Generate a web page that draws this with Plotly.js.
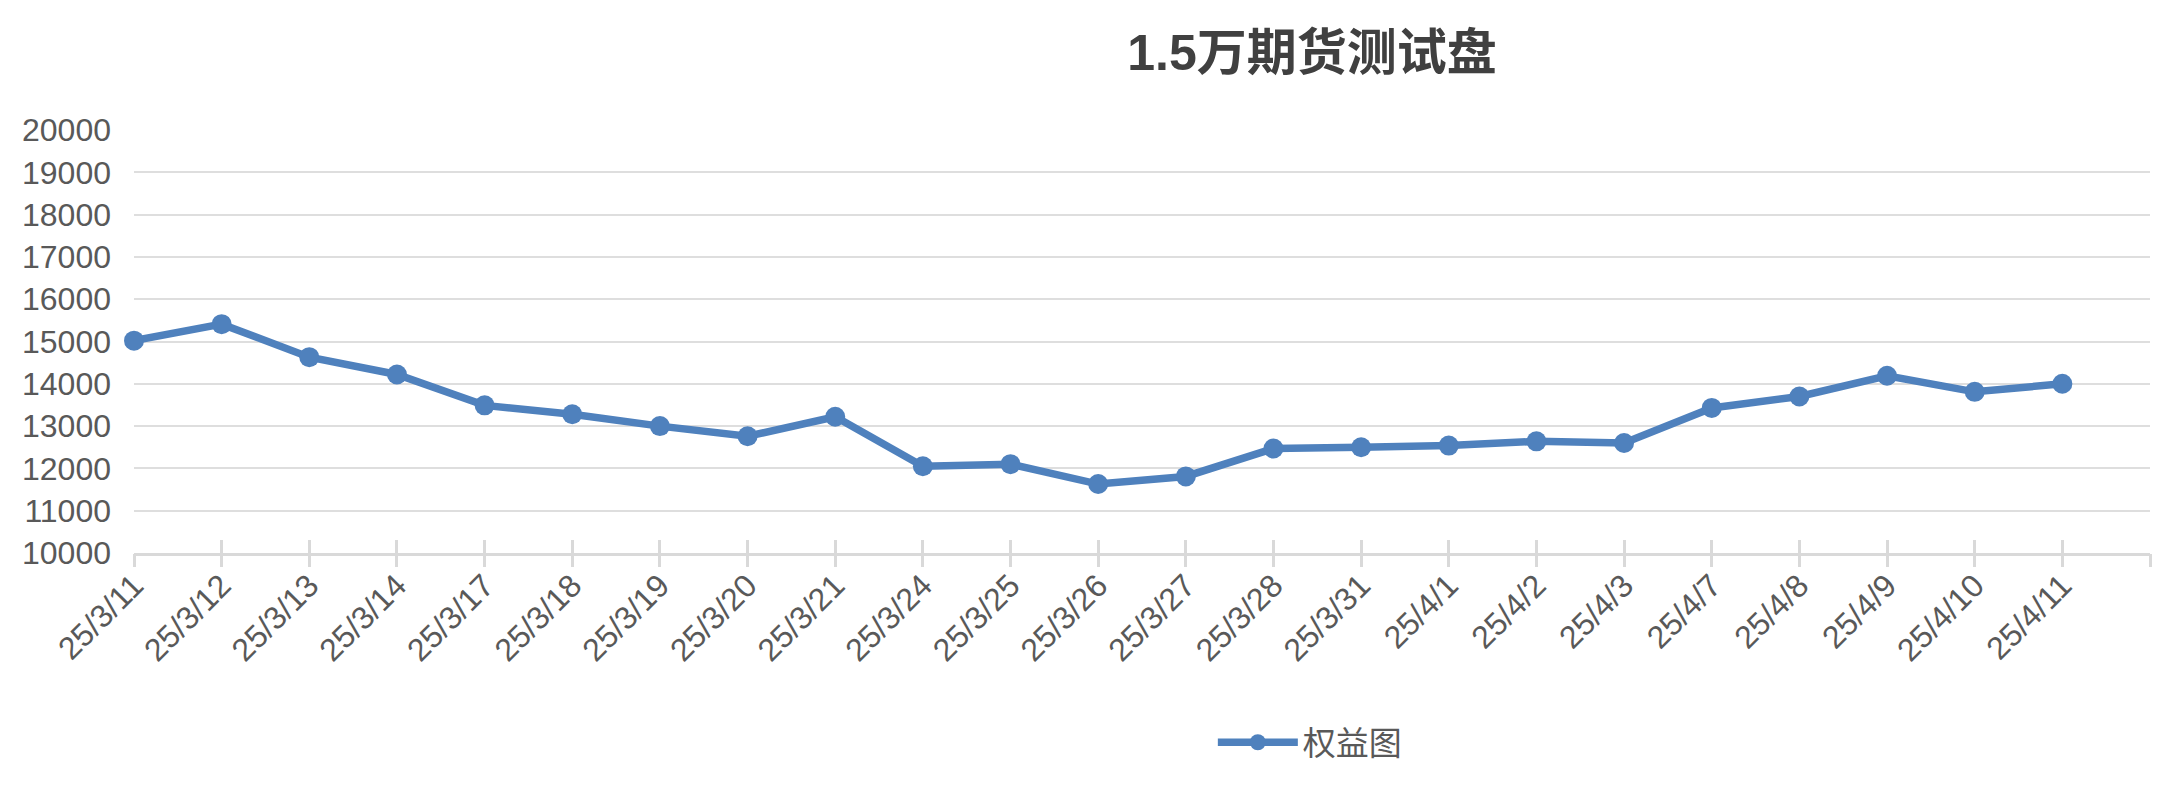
<!DOCTYPE html>
<html>
<head>
<meta charset="utf-8">
<script src="https://cdn.plot.ly/plotly-3.0.1.min.js"></script>
<style>
  html, body { margin: 0; padding: 0; background: #fff; }
  #chart { width: 2160px; height: 788px; }
</style>
</head>
<body>
<div id="chart"></div>
<script>
// 交易日
var dates = ['25/3/11', '25/3/12', '25/3/13', '25/3/14', '25/3/17', '25/3/18', '25/3/19',
  '25/3/20', '25/3/21', '25/3/24', '25/3/25', '25/3/26', '25/3/27', '25/3/28', '25/3/31',
  '25/4/1', '25/4/2', '25/4/3', '25/4/7', '25/4/8', '25/4/9', '25/4/10', '25/4/11'];

// 权益
var equity = [15020, 15410, 14630, 14220, 13490, 13280, 13000,
  12760, 13220, 12050, 12100, 11630, 11810, 12470, 12500,
  12540, 12640, 12600, 13430, 13700, 14190, 13810, 14000];

var yTicks = [10000, 11000, 12000, 13000, 14000, 15000, 16000, 17000, 18000, 19000, 20000];

var blue = '#4f81bd';
var gray = '#595959';
var fontFamily = 'Liberation Sans, Arial, Noto Sans CJK SC, sans-serif';

var data = [
  {
    x: dates,
    y: equity,
    name: '权益图',
    type: 'scatter',
    mode: 'lines+markers',
    cliponaxis: false,
    line: {
      color: blue,
      width: 7.5
    },
    marker: {
      size: 20,
      color: blue
    }
  },
  // 空的辅助序列，只为让两条刻度轴画出来
  { x: [], y: [], xaxis: 'x2', showlegend: false, hoverinfo: 'skip' },
  { x: [], y: [], xaxis: 'x3', showlegend: false, hoverinfo: 'skip' }
];

// 刻度线：横轴上下各一段，末尾多一格
var tickAxis = {
  overlaying: 'x',
  anchor: 'y',
  type: 'linear',
  range: [0, dates.length],
  tickmode: 'linear',
  tick0: 0,
  dtick: 1,
  ticklen: 13,
  tickwidth: 3,
  tickcolor: '#d9d9d9',
  showticklabels: false,
  showgrid: false,
  zeroline: false,
  showline: false,
  fixedrange: true
};

var layout = {
  width: 2160,
  height: 788,
  paper_bgcolor: '#fff',
  plot_bgcolor: '#fff',
  font: {
    family: fontFamily,
    color: gray,
    size: 32
  },
  title: {
    text: '<b>1.5万期货测试盘</b>',
    font: {
      family: fontFamily,
      size: 50,
      color: '#404040'
    },
    xref: 'container',
    yref: 'container',
    x: 0.6074,
    xanchor: 'center',
    y: 0.934,
    yanchor: 'middle'
  },
  margin: {
    t: 130,
    r: 10,
    b: 235,
    l: 134,
    pad: 0
  },
  showlegend: true,
  legend: {
    orientation: 'h',
    xref: 'container',
    yref: 'container',
    x: 0.5615,
    xanchor: 'left',
    y: 0.058,
    yanchor: 'middle',
    itemwidth: 80,
    font: {
      family: 'Noto Sans CJK SC, sans-serif',
      size: 33,
      color: gray
    }
  },
  xaxis: {
    type: 'category',
    range: [0, dates.length],
    ticks: '',
    tickangle: -45,
    ticklabelstandoff: -2,
    tickfont: {
      size: 32,
      color: gray
    },
    showline: true,
    linecolor: '#d9d9d9',
    linewidth: 3,
    showgrid: false,
    zeroline: false,
    fixedrange: true
  },
  xaxis2: Object.assign({}, tickAxis, { ticks: 'inside' }),
  xaxis3: Object.assign({}, tickAxis, { ticks: 'outside' }),
  yaxis: {
    range: [10000, 20000],
    tickmode: 'array',
    tickvals: yTicks,
    ticktext: yTicks.map(String),
    tickfont: {
      size: 32,
      color: gray
    },
    ticklabelstandoff: 22,
    showline: false,
    gridcolor: '#dedede',
    gridwidth: 2,
    zeroline: false,
    fixedrange: true
  }
};

Plotly.newPlot('chart', data, layout, {displayModeBar: false, staticPlot: true});
</script>
</body>
</html>
